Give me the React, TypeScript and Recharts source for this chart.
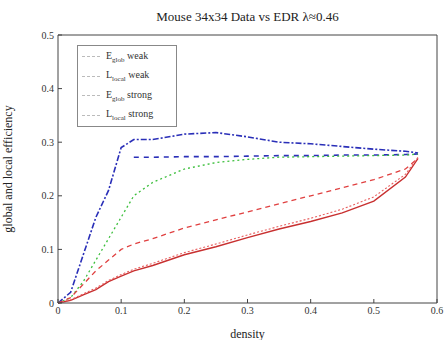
import { LineChart, Line, XAxis, YAxis, ReferenceLine } from "recharts";

const density = [0, 0.02, 0.04, 0.06, 0.08, 0.1, 0.12, 0.15, 0.2, 0.25, 0.3, 0.35, 0.4, 0.45, 0.5, 0.55, 0.57];

const eglobData = [0, 0.02, 0.09, 0.16, 0.21, 0.29, 0.305, 0.305, 0.315, 0.318, 0.31, 0.3, 0.297, 0.292, 0.287, 0.283, 0.28];
const eglobModel = [null, null, null, null, null, null, 0.272, 0.272, 0.273, 0.273, 0.274, 0.275, 0.275, 0.276, 0.276, 0.277, 0.278];
const elocModel = [0, 0.01, 0.04, 0.08, 0.12, 0.16, 0.2, 0.225, 0.25, 0.262, 0.268, 0.272, 0.273, 0.274, 0.275, 0.276, 0.278];
const elocData = [0, 0.01, 0.035, 0.06, 0.08, 0.1, 0.11, 0.12, 0.14, 0.155, 0.17, 0.185, 0.2, 0.215, 0.23, 0.25, 0.27];
const eglobRand = [0, 0.005, 0.015, 0.025, 0.04, 0.05, 0.06, 0.07, 0.09, 0.105, 0.122, 0.138, 0.152, 0.168, 0.19, 0.235, 0.27];
const elocRand = [0, 0.006, 0.017, 0.028, 0.042, 0.053, 0.063, 0.074, 0.094, 0.11, 0.127, 0.143, 0.158, 0.175, 0.198, 0.24, 0.272];

const xTicks = [0, 0.1, 0.2, 0.3, 0.4, 0.5, 0.6];
const yTicks = [0, 0.1, 0.2, 0.3, 0.4, 0.5];
const legendLabels = [
  ["E", "glob", "weak"],
  ["L", "local", "weak"],
  ["E", "glob", "strong"],
  ["L", "local", "strong"],
];

const rows = density.map((d, i) => ({
  density: d,
  eglobData: eglobData[i],
  eglobModel: eglobModel[i],
  elocModel: elocModel[i],
  elocData: elocData[i],
  eglobRand: eglobRand[i],
  elocRand: elocRand[i],
}));

const font = "'Liberation Serif', 'DejaVu Serif', serif";

function LegendBox() {
  return (
    <div
      style={{
        position: "absolute",
        left: 77,
        top: 45,
        width: 100,
        height: 82,
        border: "1px solid #888",
        background: "#fff",
        fontFamily: font,
        fontSize: 10,
        color: "#333",
        boxSizing: "border-box",
        padding: "1px 4px",
      }}
    >
      {legendLabels.map(([a, sub, b], i) => (
        <div key={i} style={{ display: "flex", alignItems: "center", height: 19.5 }}>
          <span style={{ display: "inline-block", width: 18, borderTop: "1px dashed #bbb", marginRight: 6 }} />
          <span>
            {a}
            <sub style={{ fontSize: 7 }}>{sub}</sub> {b}
          </span>
        </div>
      ))}
    </div>
  );
}

export default function App() {
  return (
    <div style={{ position: "absolute", left: 0, top: 0, width: 444, height: 340, background: "#fff" }}>
      <div
        style={{
          position: "absolute",
          top: 9,
          left: 58,
          width: 379,
          textAlign: "center",
          fontFamily: font,
          fontSize: 13,
          color: "#222",
        }}
      >
        Mouse 34x34 Data vs EDR λ≈0.46
      </div>
      <LineChart width={444} height={340} data={rows} margin={{ top: 35, right: 7, bottom: 0, left: 0 }}>
        <XAxis
          dataKey="density"
          type="number"
          domain={[0, 0.6]}
          ticks={xTicks}
          tickFormatter={(v: number) => String(v)}
          tick={{ fontFamily: font, fontSize: 10, fill: "#333" }}
          tickSize={-4}
          tickMargin={8}
          stroke="#444"
          height={37}
          label={{ value: "density", position: "insideBottom", offset: 2, fontFamily: font, fontSize: 12, fill: "#222" }}
        />
        <YAxis
          type="number"
          domain={[0, 0.5]}
          ticks={yTicks}
          tick={{ fontFamily: font, fontSize: 10, fill: "#333" }}
          tickSize={-4}
          tickMargin={8}
          stroke="#444"
          width={58}
          label={{ value: "global and local efficiency", angle: -90, position: "insideLeft", offset: 8, style: { textAnchor: "middle" }, fontFamily: font, fontSize: 12, fill: "#222" }}
        />
        <ReferenceLine y={0.5} stroke="#444" />
        <ReferenceLine x={0.6} stroke="#444" />
        <Line dataKey="eglobData" stroke="#2a2fb8" strokeWidth={1.6} strokeDasharray="6 2 2 2" dot={false} isAnimationActive={false} connectNulls />
        <Line dataKey="eglobModel" stroke="#2a2fb8" strokeWidth={1.6} strokeDasharray="5 5" dot={false} isAnimationActive={false} />
        <Line dataKey="elocModel" stroke="#3cbf3c" strokeWidth={1.3} strokeDasharray="2 3" dot={false} isAnimationActive={false} />
        <Line dataKey="elocData" stroke="#e04040" strokeWidth={1.3} strokeDasharray="5 4" dot={false} isAnimationActive={false} />
        <Line dataKey="eglobRand" stroke="#c83030" strokeWidth={1.4} dot={false} isAnimationActive={false} />
        <Line dataKey="elocRand" stroke="#e86060" strokeWidth={1.1} strokeDasharray="2 2" dot={false} isAnimationActive={false} />
      </LineChart>
      <LegendBox />
    </div>
  );
}
